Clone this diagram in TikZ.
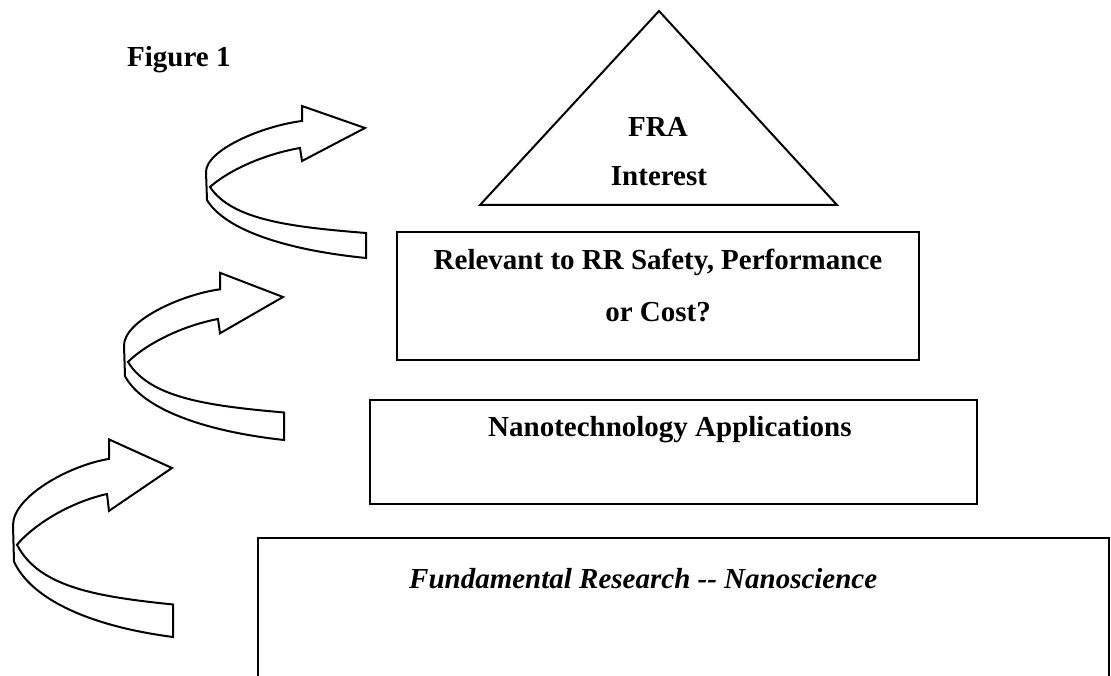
\documentclass[tikz,border=0pt]{standalone}
\usepackage{fontspec}
\setmainfont{Liberation Serif}
\tikzset{
  lbl/.style={font=\fontsize{29}{35}\selectfont\bfseries, inner sep=0pt, anchor=base},
  frame/.style={line width=2pt},
  turnarrow/.pic={
    \draw[frame, line join=miter, fill=white] (1,-105) .. controls (-74,-99) and (-133,-92) .. (-155,-59)
      .. controls (-136,-42) and (-100,-26) .. (-65,-20) -- (-63,-33) -- (0,0) -- (-63,22) -- (-63,7)
      .. controls (-103,2) and (-159,-22) .. (-159,-44) -- (-158,-72)
      .. controls (-140,-102) and (-79,-122) .. (1,-130) -- cycle;
  }
}
\begin{document}
\begin{tikzpicture}[x=1pt,y=1pt]
    \useasboundingbox (0,0) rectangle (1111,675);
    \node[lbl, anchor=base west] (fig) at (127,608) {Figure 1};
    % pyramid
    \draw[frame] (480,470) -- (659,664) -- (837,470) -- cycle;
    \node[lbl] (fra) at (658,538) {FRA};
    \node[lbl] (interest) at (659,489) {Interest};
    \draw[frame] (397,315) rectangle (919,443);
    \node[lbl] (relevant) at (658,405) {Relevant to RR Safety, Performance};
    \node[lbl] (cost) at (658,353) {or Cost?};
    \draw[frame] (370,171) rectangle (977,275);
    \node[lbl, anchor=base west] (nano) at (488,238) {Nanotechnology Applications};
    \draw[frame] (258,-10) |- (1109,137) -- (1109,-10);
    \node[lbl, anchor=base west, font=\fontsize{29}{35}\selectfont\bfseries\itshape] (fundamental) at (409,87) {Fundamental Research {-}{-} Nanoscience};
    % arrows
    \pic at (365,547) {turnarrow};
    \pic[yscale=1.1] at (283,378) {turnarrow};
    \pic[yscale=1.3] at (172,207) {turnarrow};
\end{tikzpicture}
\end{document}
